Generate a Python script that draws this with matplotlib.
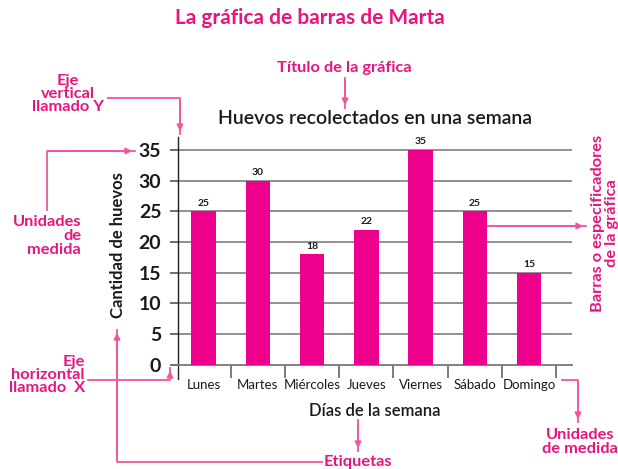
import matplotlib
matplotlib.use("Agg")
import matplotlib.pyplot as plt
from matplotlib.patches import FancyArrowPatch
from matplotlib.lines import Line2D

days = ["Lunes", "Martes", "Miércoles", "Jueves", "Viernes", "Sábado", "Domingo"]
eggs = [25, 30, 18, 22, 35, 25, 15]
y_ticks = [0, 5, 10, 15, 20, 25, 30, 35]

W, H = 618, 469
PINK = "#EC008C"
APINK = "#F2559F"
TPINK = "#E6157F"
DARK = "#1a1a1a"
plt.rcParams['font.family'] = ['Lato', 'DejaVu Sans']

fig = plt.figure(figsize=(W / 100, H / 100), dpi=100)

def fx(x):
    return x / W

def fy(y):
    return 1 - y / H

L, R, T, B = 178, 572, 137, 379
ax = fig.add_axes([fx(L), fy(B), fx(R) - fx(L), fy(T) - fy(B)])
x = list(range(len(days)))
bars = ax.bar(x, eggs, width=0.45, color=PINK, zorder=3)
for xi, v in zip(x, eggs):
    ax.text(xi, v + 0.6, str(v), ha="center", va="bottom", fontsize=7.5,
            fontweight="bold", color=DARK)

ax.set_xlim(-0.47, 6.79)
ax.set_ylim(-2.3, 37.1)
ax.spines['top'].set_visible(False)
ax.spines['right'].set_visible(False)
ax.spines['bottom'].set_position(('data', 0))
ax.spines['bottom'].set_color("#777777")
ax.spines['bottom'].set_linewidth(1.3)
ax.spines['left'].set_color("#222222")
ax.spines['left'].set_linewidth(1.0)

ax.set_yticks(y_ticks)
ax.set_yticklabels([str(t) for t in y_ticks], fontsize=14, fontweight="bold", color=DARK)
ax.tick_params(axis='y', direction='out', length=6, width=1.2, color="#555555", pad=6)
for t in y_ticks[1:]:
    ax.axhline(t, color="#888888", lw=1.3, zorder=1)

ax.set_xticks(x)
ax.set_xticklabels(days, fontsize=9.5, color=DARK)
ax.tick_params(axis='x', length=0, pad=10)
ax.set_xticks([i + 0.5 for i in range(7)], minor=True)
ax.tick_params(axis='x', which='minor', direction='out', length=9, width=1.2, color="#666666")

ax.set_ylabel("Cantidad de huevos", fontsize=12, fontweight="bold", color=DARK)
ax.yaxis.set_label_coords((126 - L) / (R - L), (B - 245) / (B - T))
ax.set_xlabel("Días de la semana", fontsize=12, fontweight="semibold", color=DARK, labelpad=9)

fig.text(fx(375), fy(118), "Huevos recolectados en una semana", ha="center", va="center",
         fontsize=14, fontweight="semibold", color=DARK)
fig.text(fx(310), fy(18), "La gráfica de barras de Marta", ha="center", va="center",
         fontsize=15, fontweight="bold", color=TPINK)

pk = dict(color=TPINK, fontweight="bold", fontsize=11.8)
fig.text(fx(344), fy(68), "Título de la gráfica", ha="center", va="center", **pk)
fig.text(fx(68), fy(94), "Eje\nvertical\nllamado Y", ha="center", va="center", linespacing=0.95, **pk)
fig.text(fx(81), fy(236), "Unidades\nde\nmedida", ha="right", va="center", linespacing=1.0, **pk)
fig.text(fx(85), fy(375), "Eje\nhorizontal\nllamado  X", ha="right", va="center", linespacing=0.95, **pk)
fig.text(fx(358), fy(462), "Etiquetas", ha="center", va="center", **pk)
fig.text(fx(580), fy(442), "Unidades\nde medida", ha="center", va="center", linespacing=0.95, **pk)
fig.text(fx(605), fy(223), "Barras o especificadores\nde la gráfica", ha="center", va="center",
         rotation=90, linespacing=0.95, **pk)

def path(pts, arrow=True):
    xs = [fx(p[0]) for p in pts]
    ys = [fy(p[1]) for p in pts]
    fig.add_artist(Line2D(xs, ys, color=APINK, lw=1.3, transform=fig.transFigure))
    if arrow:
        a = FancyArrowPatch((xs[-2], ys[-2]), (xs[-1], ys[-1]), transform=fig.transFigure,
                            arrowstyle='-|>', mutation_scale=9, color=APINK, lw=1.3)
        fig.add_artist(a)

path([(345, 78), (345, 108)])
path([(108, 98), (180, 98), (180, 134)])
path([(47, 210), (47, 151), (135, 151)])
path([(88, 380), (170, 380), (170, 368)])
path([(322, 462), (117, 462), (117, 330)])
path([(358, 420), (358, 451)])
path([(562, 380), (578, 380), (578, 422)])
path([(488, 226), (586, 226)])

fig.savefig("out.png", dpi=100)
